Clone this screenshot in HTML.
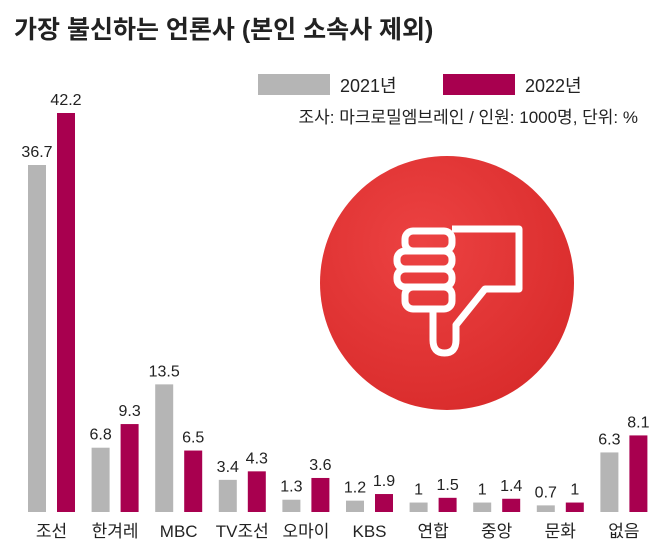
<!DOCTYPE html>
<html><head><meta charset="utf-8"><style>
body{margin:0;background:#fff;}
svg{display:block;font-family:"Liberation Sans","Noto Sans CJK KR",sans-serif;}
</style></head><body>
<svg width="658" height="547" viewBox="0 0 658 547">
<defs><radialGradient id="rg" cx="40%" cy="35%" r="75%"><stop offset="0" stop-color="#ec4242"/><stop offset="1" stop-color="#d82a2a"/></radialGradient></defs>
<text x="14" y="38" font-size="25" font-weight="bold" fill="#222">가장 불신하는 언론사 (본인 소속사 제외)</text>
<rect x="258" y="74" width="72" height="21" fill="#b5b5b5"/>
<text x="340" y="92" font-size="18" fill="#222">2021년</text>
<rect x="443" y="74" width="72" height="21" fill="#a8004f"/>
<text x="525" y="92" font-size="18" fill="#222">2022년</text>
<text x="638" y="123" font-size="17" fill="#222" text-anchor="end">조사: 마크로밀엠브레인 / 인원: 1000명, 단위: %</text>
<circle cx="447" cy="283" r="127" fill="url(#rg)"/>
<g fill="none" stroke="#fff" stroke-width="7" stroke-linejoin="round">
<path d="M452 229 L519 229 L519 289 L485 289 L456 325 L456 340 Q456 353 444.5 353 Q433 353 433 340 L433 311"/>
<rect x="405" y="231" width="47" height="20" rx="8"/>
<rect x="397" y="251" width="55" height="18" rx="8"/>
<rect x="397" y="269" width="55" height="18" rx="8"/>
<rect x="405" y="287" width="47" height="22" rx="8"/>
</g>
<g id="bars"></g>
</svg>
<script>
const categories=["조선","한겨레","MBC","TV조선","오마이","KBS","연합","중앙","문화","없음"];
const values2021=[36.7,6.8,13.5,3.4,1.3,1.2,1,1,0.7,6.3];
const values2022=[42.2,9.3,6.5,4.3,3.6,1.9,1.5,1.4,1,8.1];
const base=512, scale=(512-113)/42.2;
const y=v=>base-v*scale;
const cx=i=>51.5+i*63.6;
const g=document.getElementById('bars');
const NS='http://www.w3.org/2000/svg';
function mk(t,a){const e=document.createElementNS(NS,t);for(const k in a)e.setAttribute(k,a[k]);g.appendChild(e);return e;}
categories.forEach((c,i)=>{
  const x=cx(i);
  const b1=mk('rect',{x:x-23.5,y:y(values2021[i]),width:18,height:base-y(values2021[i]),fill:'#b5b5b5'});
  
  
  const b2=mk('rect',{x:x+5.5,y:y(values2022[i]),width:18,height:base-y(values2022[i]),fill:'#a8004f'});
  
  
  const t1=mk('text',{x:x-14.5,y:y(values2021[i])-8,'font-size':16,'text-anchor':'middle',fill:'#222'});
  t1.textContent=values2021[i];
  
  
  const t2=mk('text',{x:x+14.5,y:y(values2022[i])-8,'font-size':16,'text-anchor':'middle',fill:'#222'});
  t2.textContent=values2022[i];
  
  
  const l=mk('text',{x:x,y:537,'font-size':17,'text-anchor':'middle',fill:'#222'});
  l.textContent=c;
  
  
});
</script>
</body></html>
